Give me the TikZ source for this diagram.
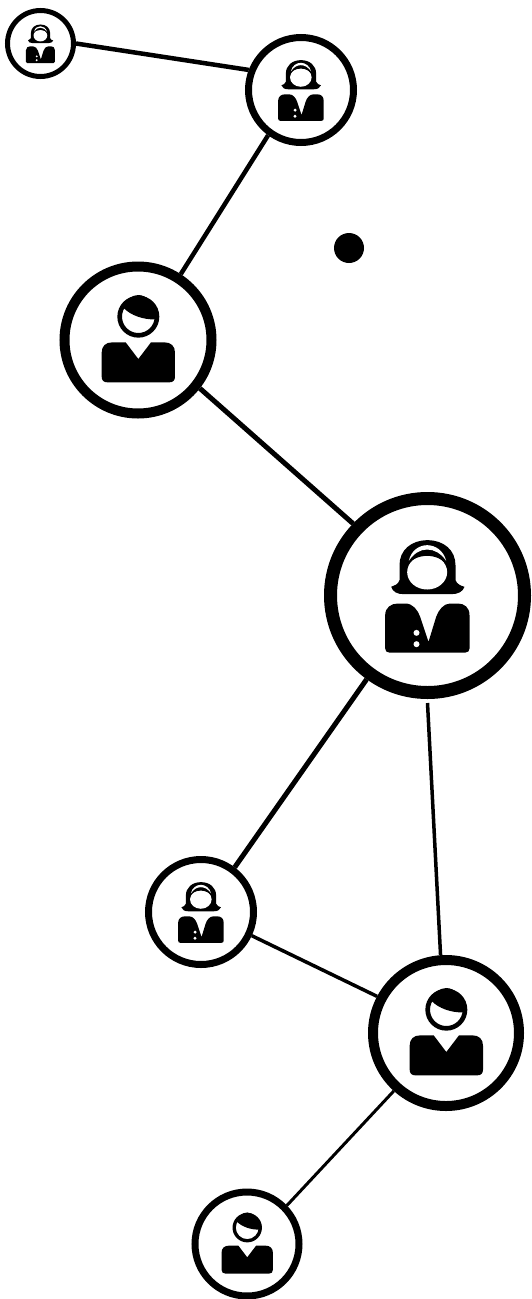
\documentclass[tikz,border=0pt]{standalone}
\tikzset{
  person/.style={circle,draw=black,fill=white,inner sep=0pt},
  link/.style={draw=black,line cap=butt},
  pics/manicon/.style={code={
    \begin{scope}[shift={(-249,-240)}]
      \fill[black,even odd rule] (250,170) circle (63) (250,170) circle (49);
      \fill[black] (205,143) .. controls (225,165) and (265,180) .. (302,178)
        .. controls (305,130) and (275,105) .. (250,105) .. controls (230,105) and (212,120) .. cycle;
      \fill[black] (140,278) .. controls (140,258) and (152,247) .. (172,247) -- (212,247)
        -- (250,297) -- (288,247) -- (328,247) .. controls (348,247) and (360,258) .. (360,278)
        -- (360,350) .. controls (360,361) and (354,367) .. (343,367) -- (157,367)
        .. controls (146,367) and (140,361) .. (140,350) -- cycle;
    \end{scope}}},
  pics/womanicon/.style={code={
    \begin{scope}[shift={(-324,-316)}]
      \fill[black] (240,270) -- (240,225) .. controls (240,180) and (275,150) .. (324,150)
        .. controls (373,150) and (408,180) .. (408,225) -- (408,270)
        .. controls (412,282) and (425,287) .. (435,290) .. controls (430,305) and (415,312) .. (395,312)
        -- (253,312) .. controls (233,312) and (220,305) .. (215,290)
        .. controls (225,287) and (236,282) .. (240,270) -- cycle;
      \fill[white] (323,246) ellipse (60 and 52);
      \fill[black] (262,235) .. controls (268,207) and (300,197) .. (323,197)
        .. controls (346,197) and (378,207) .. (385,235) -- (390,200) -- (323,170) -- (258,200) -- cycle;
      \fill[white] (268,212) .. controls (275,180) and (300,165) .. (323,165)
        .. controls (346,165) and (372,180) .. (380,212)
        .. controls (365,190) and (345,178) .. (323,178)
        .. controls (301,178) and (283,190) .. (268,212) -- cycle;
      \fill[black] (197,375) .. controls (197,352) and (215,340) .. (235,340) -- (258,340)
        .. controls (280,340) and (295,360) .. (302,380) -- (327,455) -- (350,380)
        .. controls (357,360) and (372,340) .. (392,340) -- (415,340)
        .. controls (435,340) and (450,352) .. (450,375) -- (450,475)
        .. controls (450,483) and (445,487) .. (438,487) -- (209,487)
        .. controls (202,487) and (197,483) .. (197,475) -- cycle;
      \fill[white] (291,428) circle (9) (291,462) circle (9);
    \end{scope}}}
}
\begin{document}
\begin{tikzpicture}[x=1pt,y=-1pt]
\useasboundingbox (0,0) rectangle (531,1299);
\fill[white] (0,0) rectangle (531,1299);
\node[person,line width=5pt,minimum size=66pt] (tl) at (40.5,43.5) {};
\node[person,line width=7pt,minimum size=105pt] (tr) at (301,90) {};
\node[person,line width=10pt,minimum size=147pt] (ma) at (138,340) {};
\node[person,line width=13pt,minimum size=194pt] (big) at (427.5,595.5) {};
\node[person,line width=7pt,minimum size=105pt] (wb) at (201,912) {};
\node[person,line width=10pt,minimum size=146pt] (mb) at (446,1033) {};
\node[person,line width=7pt,minimum size=104pt] (mc) at (247,1244) {};
\node[circle,fill=black,inner sep=0pt,minimum size=30pt] (dot) at (349,248) {};
\coordinate (bigfoot) at ([yshift=-4pt]big.south);
\draw[link,line width=4.5pt] (tl.east) -- (tr.159);
\draw[link,line width=4.5pt] (tr.234) -- (ma.57.7);
\draw[link,line width=5pt] (ma.-38) -- (big.136.6);
\draw[link,line width=5pt] (big.234.3) -- (wb.53.5);
\draw[link,line width=3.5pt] (bigfoot) -- (mb.94.6);
\draw[link,line width=3.5pt] (wb.-25) -- (mb.152);
\draw[link,line width=3pt] (mb.228.6) -- (mc.44);
\pic[scale=0.1145] at (tl) {womanicon};
\pic[scale=0.18] at (tr) {womanicon};
\pic[scale=0.3333] at (ma) {manicon};
\pic[scale=0.3333] at (big) {womanicon};
\pic[scale=0.18] at (wb) {womanicon};
\pic[scale=0.3333] at (mb) {manicon};
\pic[scale=0.2335] at (mc) {manicon};
\end{tikzpicture}
\end{document}
